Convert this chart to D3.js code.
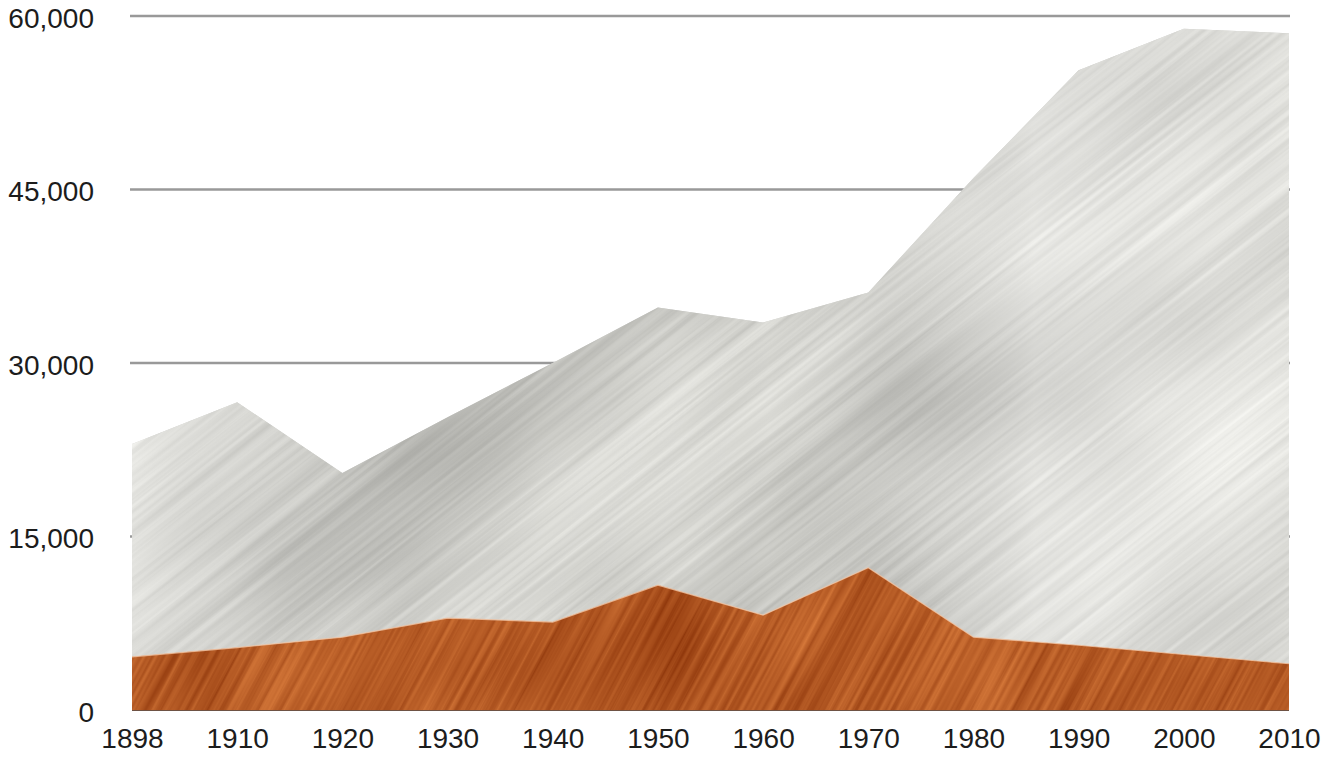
<!DOCTYPE html>
<html>
<head>
<meta charset="utf-8">
<script src="https://cdn.jsdelivr.net/npm/d3@7"></script>
<style>
  html, body { margin: 0; padding: 0; background: #fff; }
  .chart__axis text {
    font-family: "Liberation Sans", Arial, Helvetica, sans-serif;
    font-size: 28px;
    fill: #1c1c1c;
  }
</style>
</head>
<body>
<div id="chart"></div>
<script>
// values
const years = ['1898', '1910', '1920', '1930', '1940', '1950', '1960', '1970', '1980', '1990', '2000', '2010'];
const lowerValues = [4600, 5400, 6300, 7950, 7600, 10800, 8200, 12300, 6300, 5600, 4800, 4000];
const totalValues = [23000, 26600, 20500, 25300, 30000, 34800, 33500, 36100, 46000, 55300, 58900, 58500];
const yTicks = [0, 15000, 30000, 45000, 60000];

const width = 1325;
const height = 757;
const margin = { top: 16, right: 36, bottom: 47, left: 132 };
const innerWidth = width - margin.left - margin.right;
const innerHeight = height - margin.top - margin.bottom;

const rows = years.map((year, i) => ({
  year,
  lower: lowerValues[i],
  upper: totalValues[i] - lowerValues[i]
}));

const series = d3.stack().keys(['lower', 'upper'])(rows);

const svg = d3.select('#chart')
  .append('svg')
    .attr('width', width)
    .attr('height', height);

const defs = svg.append('defs');

// brushed texture filter: a soft large noise mixed with a stretched streak noise
function textureFilter(id, opts) {
  const f = defs.append('filter')
    .attr('id', id)
    .attr('x', '0').attr('y', '0').attr('width', '1').attr('height', '1')
    .attr('color-interpolation-filters', 'sRGB');

  const grey = '1 0 0 0 0  1 0 0 0 0  1 0 0 0 0  0 0 0 0 1';

  f.append('feTurbulence')
    .attr('type', 'fractalNoise')
    .attr('baseFrequency', opts.big)
    .attr('numOctaves', 2)
    .attr('seed', opts.seed)
    .attr('result', 'bigRaw');
  f.append('feColorMatrix').attr('in', 'bigRaw').attr('type', 'matrix')
    .attr('values', grey).attr('result', 'big');

  f.append('feTurbulence')
    .attr('type', 'fractalNoise')
    .attr('baseFrequency', opts.fine)
    .attr('numOctaves', 3)
    .attr('seed', opts.seed + 4)
    .attr('result', 'fineRaw');
  f.append('feColorMatrix').attr('in', 'fineRaw').attr('type', 'matrix')
    .attr('values', grey).attr('result', 'fine');

  f.append('feComposite')
    .attr('in', 'big').attr('in2', 'fine')
    .attr('operator', 'arithmetic')
    .attr('k2', opts.mix[0]).attr('k3', opts.mix[1])
    .attr('result', 'mix');

  f.append('feColorMatrix').attr('in', 'mix').attr('type', 'matrix')
    .attr('values', opts.colour);
}

textureFilter('metal', {
  big: '0.004 0.006',
  fine: '0.002 0.2',
  seed: 5,
  mix: [0.6, 0.4],
  colour: '0.42 0 0 0 0.63  0.42 0 0 0 0.63  0.42 0 0 0 0.61  0 0 0 0 1'
});

textureFilter('rust', {
  big: '0.006 0.01',
  fine: '0.003 0.2',
  seed: 11,
  mix: [0.4, 0.6],
  colour: '0.45 0 0 0 0.48  0.42 0 0 0 0.14  0.3 0 0 0 -0.01  0 0 0 0 1'
});

// broad light / shade sweep across the metal, lighter to the right
const sweep = defs.append('linearGradient')
  .attr('id', 'sweep')
  .attr('x1', '0').attr('x2', '1').attr('y1', '0').attr('y2', '0');

[[0, '#fff', 0.2], [0.35, '#000', 0.05], [0.55, '#000', 0.03], [0.78, '#fff', 0.28], [1, '#fff', 0.15]]
  .forEach(([o, c, a]) => sweep.append('stop')
    .attr('offset', o)
    .attr('stop-color', c)
    .attr('stop-opacity', a));

const g = svg.append('g')
  .attr('transform', `translate(${margin.left}, ${margin.top})`);

const scaleX = d3.scalePoint()
  .domain(years)
  .range([0, innerWidth]);

const scaleY = d3.scaleLinear()
  .domain([0, 60000])
  .range([innerHeight, 0]);

// grid lines sit behind the areas
g.append('g')
  .attr('class', 'chart__grid')
  .selectAll('line')
  .data(yTicks.filter(d => d > 0))
  .enter()
  .append('line')
    .attr('x1', -2)
    .attr('x2', innerWidth + 1)
    .attr('y1', d => scaleY(d))
    .attr('y2', d => scaleY(d))
    .attr('stroke', '#999')
    .attr('stroke-width', 2.5);

const area = d3.area()
  .x(d => scaleX(d.data.year))
  .y0(d => scaleY(d[0]))
  .y1(d => scaleY(d[1]));

const looks = {
  upper: { filter: 'metal', base: '#d6d6d3', angle: -38, sweep: true },
  lower: { filter: 'rust', base: '#b4561f', angle: -62, sweep: false }
};

const diag = Math.hypot(innerWidth, innerHeight);

series.slice().reverse().forEach(s => {
  const look = looks[s.key];

  defs.append('clipPath')
    .attr('id', `clip-${s.key}`)
    .append('path')
      .attr('transform', `translate(${margin.left}, ${margin.top})`)
      .attr('d', area(s));

  g.append('path')
    .attr('class', `chart__area chart__area--${s.key}`)
    .attr('d', area(s))
    .attr('fill', look.base);

  const layer = svg.append('g')
    .attr('clip-path', `url(#clip-${s.key})`);

  layer.append('rect')
    .attr('x', margin.left + innerWidth / 2 - diag / 2)
    .attr('y', margin.top + innerHeight / 2 - diag / 2)
    .attr('width', diag)
    .attr('height', diag)
    .attr('transform', `rotate(${look.angle}, ${margin.left + innerWidth / 2}, ${margin.top + innerHeight / 2})`)
    .attr('filter', `url(#${look.filter})`);

  if (look.sweep) {
    layer.append('rect')
      .attr('x', margin.left)
      .attr('y', margin.top)
      .attr('width', innerWidth)
      .attr('height', innerHeight)
      .attr('fill', 'url(#sweep)');
  }
});

// thin light edge along the top of the rust area, dark base line
const edgeLine = d3.line()
  .x(d => margin.left + scaleX(d.data.year))
  .y(d => margin.top + scaleY(d[1]));

svg.append('path')
  .attr('d', edgeLine(series[0]))
  .attr('fill', 'none')
  .attr('stroke', '#f1c6a6')
  .attr('stroke-width', 1.2)
  .attr('stroke-opacity', 0.8);

g.append('line')
  .attr('x1', 0)
  .attr('x2', innerWidth)
  .attr('y1', scaleY(0))
  .attr('y2', scaleY(0))
  .attr('stroke', '#6e5244')
  .attr('stroke-width', 2);

const yAxis = d3.axisLeft(scaleY)
  .tickValues(yTicks)
  .tickFormat(d3.format(','))
  .tickSize(0)
  .tickPadding(38);

const xAxis = d3.axisBottom(scaleX)
  .tickSize(0)
  .tickPadding(18);

g.append('g')
  .attr('class', 'chart__axis chart__axis--y')
  .call(yAxis)
  .call(sel => sel.select('.domain').remove())
  .call(sel => sel.selectAll('text').attr('dy', '0.4em'));

g.append('g')
  .attr('class', 'chart__axis chart__axis--x')
  .attr('transform', `translate(0, ${innerHeight})`)
  .call(xAxis)
  .call(sel => sel.select('.domain').remove());

svg.selectAll('.chart__axis text')
  .attr('font-family', null)
  .attr('font-size', null);
</script>
</body>
</html>
